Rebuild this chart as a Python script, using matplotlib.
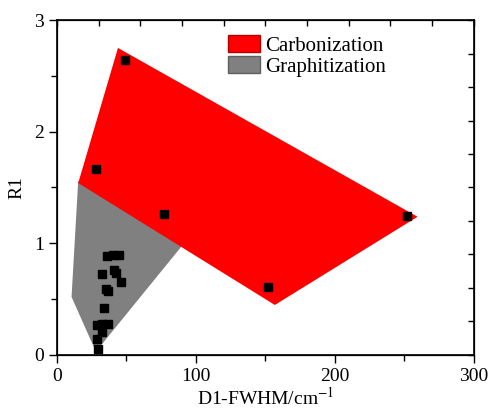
import matplotlib
matplotlib.use("Agg")
import matplotlib.pyplot as plt
from matplotlib.patches import Polygon, Patch
import numpy as np

plt.rcParams["font.family"] = ["Liberation Serif", "DejaVu Serif"]
plt.rcParams["mathtext.fontset"] = "stix"

# region outlines (D1-FWHM, R1)
carb_x = [43.9, 259.5, 156.8, 15.3]
carb_y = [2.75, 1.238, 0.448, 1.54]
# graphitization region, upper corner sits under the red region
graph_x = [15.3, 10.5, 28.0, 98.0]
graph_y = [1.56, 0.52, 0.03, 1.10]

# samples
pts_x = [48.9, 28.1, 77.2, 152.0, 252.0,
         36.2, 40.5, 44.5, 32.1, 41.0, 42.2, 46.3, 35.3, 36.4, 34.1,
         28.5, 32.1, 36.9, 32.1, 29.0, 29.3]
pts_y = [2.64, 1.665, 1.262, 0.611, 1.247,
         0.886, 0.895, 0.895, 0.728, 0.761, 0.731, 0.654, 0.588, 0.570, 0.418,
         0.268, 0.277, 0.277, 0.209, 0.14, 0.057]

fig = plt.figure(figsize=(4.91, 4.11), dpi=100)
ax = fig.add_axes([0.116, 0.1363, 0.849, 0.815])

ax.add_patch(Polygon(np.column_stack([graph_x, graph_y]), closed=True,
                     facecolor="#808080", edgecolor="none", zorder=1))
ax.add_patch(Polygon(np.column_stack([carb_x, carb_y]), closed=True,
                     facecolor="#ff0000", edgecolor="none", zorder=2))
ax.plot(pts_x, pts_y, "s", color="black", markersize=5.5, zorder=3)

ax.set_xlim(0, 300)
ax.set_ylim(0, 3)
ax.set_xticks([0, 100, 200, 300])
ax.set_xticks([50, 150, 250], minor=True)
ax.set_yticks([0, 1, 2, 3])
ax.set_yticks([0.5, 1.5, 2.5], minor=True)
ax.tick_params(which="major", direction="out", length=6, width=1, labelsize=14)
ax.tick_params(which="minor", direction="out", length=4, width=1)
ax.set_xlabel("D1-FWHM/cm$^{-1}$", fontsize=14, labelpad=1)
ax.set_ylabel("R1", fontsize=14, labelpad=6)
for s in ax.spines.values():
    s.set_linewidth(1.2)

# top / right inward ticks
axt = ax.twiny()
axt.set_xlim(0, 300)
axt.set_xticks(np.arange(0, 301, 30))
axt.tick_params(direction="in", length=4, width=1, labeltop=False)
axr = ax.twinx()
axr.set_ylim(0, 3)
axr.set_yticks(np.arange(0, 3.01, 0.3))
axr.tick_params(direction="in", length=4, width=1, labelright=False)

handles = [Patch(facecolor="#ff0000", edgecolor="#b00000", label="Carbonization"),
           Patch(facecolor="#808080", edgecolor="#606060", label="Graphitization")]
ax.legend(handles=handles, loc="upper left", bbox_to_anchor=(0.39, 0.98),
          frameon=False, fontsize=15, handlelength=1.55, handleheight=0.9,
          handletextpad=0.25, labelspacing=0.0, borderaxespad=0)

fig.savefig("out.png", dpi=100)
